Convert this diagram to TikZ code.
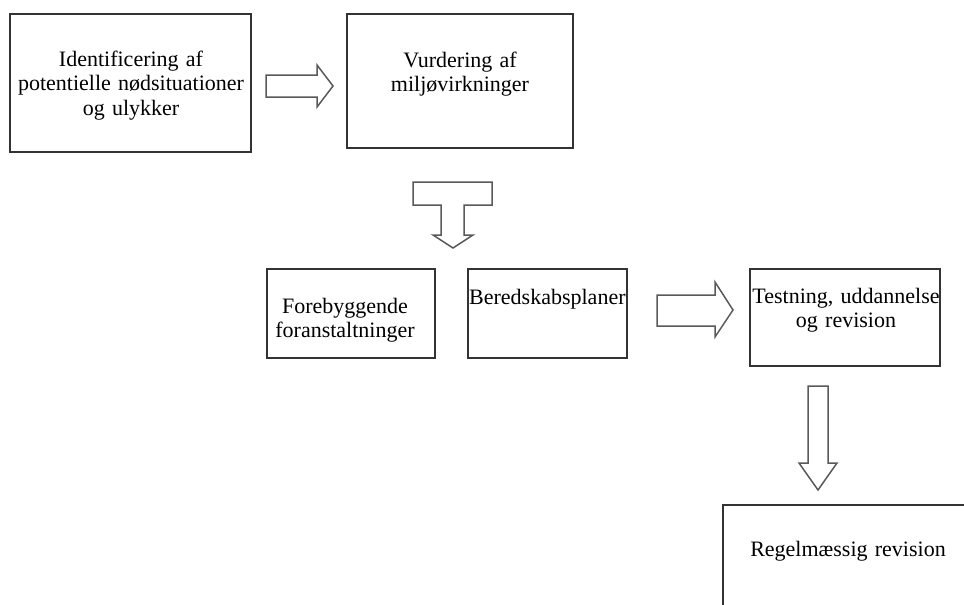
\documentclass[tikz,border=0pt]{standalone}
\usepackage{fontspec}
\setmainfont{Liberation Serif}
\newcommand\widespaces{\spaceskip=0.33em plus 0.1em\relax}
\begin{document}
\begin{tikzpicture}[x=1pt,y=-1pt,
  box/.style={draw=black!80, line width=1.8pt, inner sep=0pt},
  lbl/.style={font=\fontsize{22}{24.5}\selectfont\widespaces, align=center, inner sep=0pt},
  barrow/.style={draw=black!65, line width=1.5pt, fill=white, line join=miter}]
\useasboundingbox (0,0) rectangle (964,605);
\clip (0,0) rectangle (964,605);
% boxes
\node[box, minimum width=241pt, minimum height=138pt] (b1) at (130.5,83) {};
\node[box, minimum width=226pt, minimum height=134pt] (b2) at (460,81) {};
\node[box, minimum width=168pt, minimum height=89pt] (b3) at (351,313.5) {};
\node[box, minimum width=159pt, minimum height=89pt] (b4) at (547.5,313.5) {};
\node[box, minimum width=190pt, minimum height=97pt] (b5) at (845,317.5) {};
\node[box, minimum width=280pt, minimum height=140pt] (b6) at (863,575) {};
% texts
\node[lbl] (t1) at (131,85.5) {Identificering af\\potentielle nødsituationer\\og ulykker};
\node[lbl] (t2) at (460,74) {Vurdering af\\miljøvirkninger};
\node[lbl] (t3) at (345,320) {Forebyggende\\foranstaltninger};
\node[lbl, anchor=west] (t4) at (469,299) {Beredskabsplaner};
\node[lbl] (t5) at (846,310) {Testning, uddannelse\\og revision};
\node[lbl] (t6) at (848,551) {Regelmæssig revision};
% block arrows
\draw[barrow] (266,75) -- (317,75) -- (317,65) -- (333,86) -- (317,107) -- (317,97) -- (266,97) -- cycle;
\draw[barrow] (413,182) -- (492,182) -- (492,205) -- (464,205) -- (464,235) -- (473,235)
  -- (453,248) -- (433,235) -- (441,235) -- (441,205) -- (413,205) -- cycle;
\draw[barrow] (657,295) -- (715,295) -- (715,282) -- (733,310) -- (715,337) -- (715,326) -- (657,326) -- cycle;
\draw[barrow] (808,386) -- (828,386) -- (828,463) -- (837,463) -- (818,490) -- (799,463) -- (808,463) -- cycle;
\end{tikzpicture}
\end{document}
